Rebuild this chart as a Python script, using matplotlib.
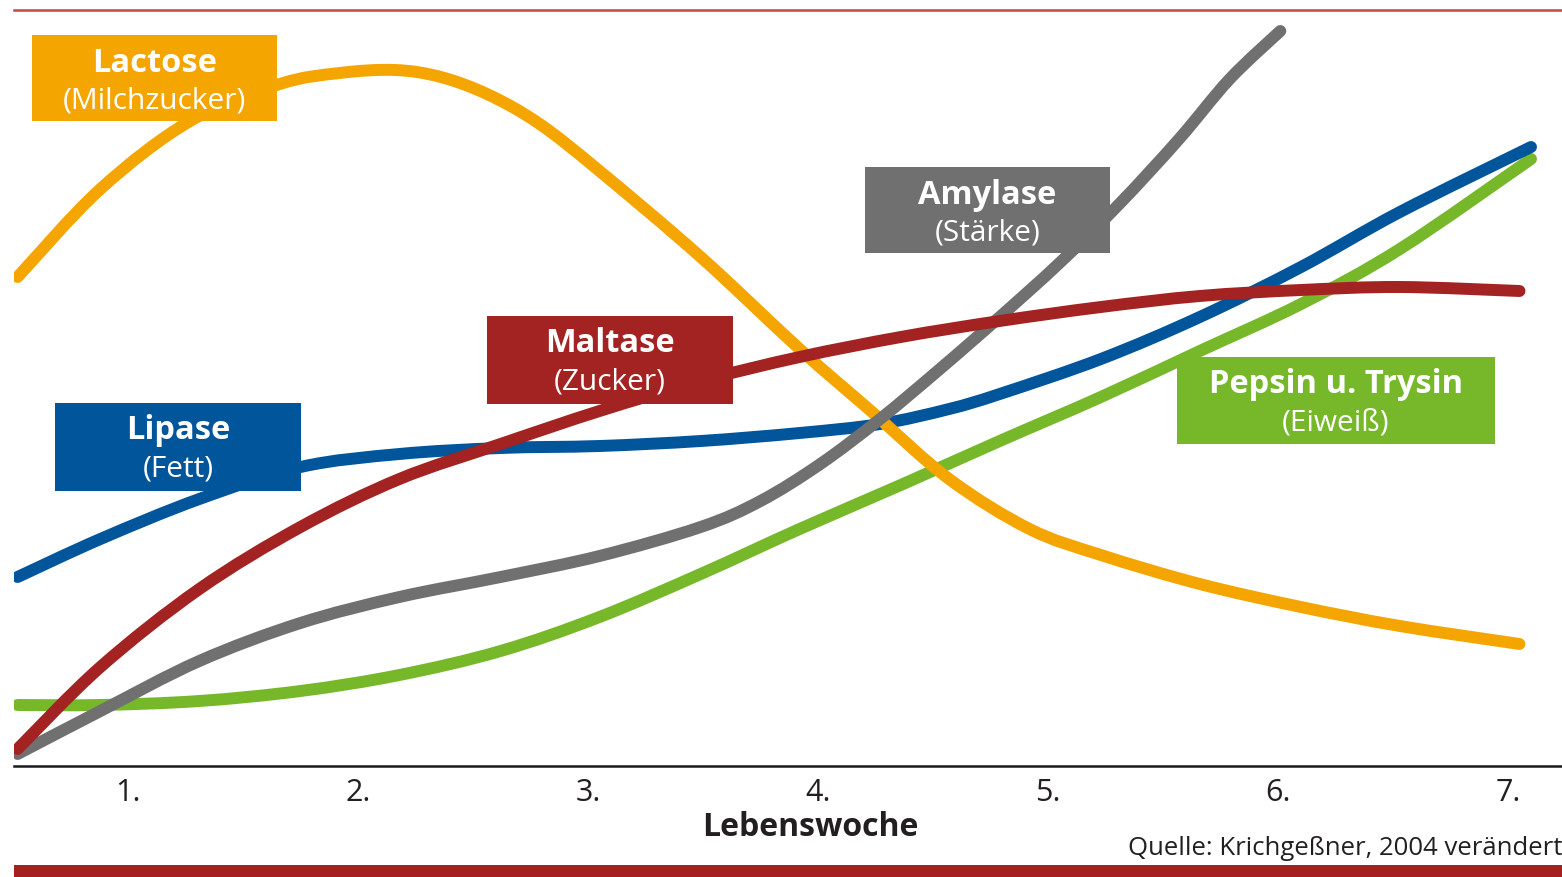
import matplotlib.pyplot as plt
from matplotlib.patches import Rectangle, PathPatch
from matplotlib.lines import Line2D
from matplotlib.path import Path

W, H = 1562, 878

# data: week vs. relative enzyme activity (arbitrary units)
lactose_x = [0.52, 0.88, 1.27, 1.66, 1.92, 2.16, 2.36, 2.57, 2.79, 3.05, 3.49, 3.92, 4.23, 4.57, 4.92, 5.23, 5.66, 6.10, 6.53, 7.05]
lactose_y = [489, 577, 645, 682, 693, 696, 689, 671, 642, 595, 509, 417, 355, 287, 237, 211, 182, 159, 140, 122]

lipase_x = [0.52, 0.88, 1.31, 1.75, 2.18, 2.62, 3.05, 3.49, 3.92, 4.27, 4.57, 4.79, 5.23, 5.66, 6.10, 6.53, 7.10]
lipase_y = [189, 227, 267, 299, 312, 318, 320, 325, 333, 342, 357, 372, 407, 449, 499, 554, 619]

maltase_x = [0.52, 0.88, 1.31, 1.75, 2.18, 2.62, 3.05, 3.49, 3.92, 4.36, 4.79, 5.23, 5.66, 6.10, 6.53, 7.05]
maltase_y = [17, 99, 177, 239, 287, 322, 355, 385, 409, 429, 445, 459, 470, 476, 479, 475]

amylase_x = [0.52, 0.88, 1.31, 1.75, 2.18, 2.62, 3.05, 3.49, 3.75, 4.01, 4.27, 4.53, 4.79, 5.05, 5.31, 5.57, 5.79, 6.01]
amylase_y = [12, 55, 105, 143, 169, 189, 210, 239, 265, 302, 347, 397, 449, 503, 562, 627, 687, 735]

pepsin_x = [0.52, 0.88, 1.31, 1.75, 2.18, 2.62, 3.05, 3.49, 3.92, 4.36, 4.79, 5.23, 5.66, 6.10, 6.53, 7.10]
pepsin_y = [61, 61, 65, 75, 91, 115, 149, 192, 237, 281, 325, 369, 415, 462, 517, 607]

weeks = [1, 2, 3, 4, 5, 6, 7]
week_labels = ["1.", "2.", "3.", "4.", "5.", "6.", "7."]

orange = "#F5A500"
blue = "#00559B"
red = "#A32222"
gray = "#707070"
green = "#76B82A"

plt.rcParams['font.family'] = ['Open Sans', 'DejaVu Sans']

fig = plt.figure(figsize=(W / 100, H / 100), dpi=100)
fig.patch.set_facecolor("white")

# axes: left edge at px 14, x axis line at py 767, top at py 0
left_px = 14
ax = fig.add_axes([left_px / W, (H - 767) / H, 1 - left_px / W, 767 / H])
ax.set_xlim((left_px - 128) / 230 + 1, (W - 128) / 230 + 1)
ax.set_ylim(0, 767)


def smooth_path(xs, ys):
    # Catmull-Rom through the points, drawn as cubic Bezier segments
    pts = list(zip(xs, ys))
    n = len(pts)
    verts = [pts[0]]
    codes = [Path.MOVETO]
    for i in range(n - 1):
        p0 = pts[i - 1] if i > 0 else pts[i]
        p1 = pts[i]
        p2 = pts[i + 1]
        p3 = pts[i + 2] if i + 2 < n else pts[i + 1]
        c1 = (p1[0] + (p2[0] - p0[0]) / 6, p1[1] + (p2[1] - p0[1]) / 6)
        c2 = (p2[0] - (p3[0] - p1[0]) / 6, p2[1] - (p3[1] - p1[1]) / 6)
        verts += [c1, c2, p2]
        codes += [Path.CURVE4] * 3
    return Path(verts, codes)


lw = 8.6
series = [
    (pepsin_x, pepsin_y, green, 2),
    (lipase_x, lipase_y, blue, 3),
    (lactose_x, lactose_y, orange, 4),
    (amylase_x, amylase_y, gray, 5),
    (maltase_x, maltase_y, red, 6),
]
for xs, ys, col, z in series:
    ax.add_patch(PathPatch(smooth_path(xs, ys), facecolor="none", edgecolor=col,
                           linewidth=lw, capstyle="round", joinstyle="round", zorder=z))

for s in ["top", "right", "left"]:
    ax.spines[s].set_visible(False)
ax.spines["bottom"].set_linewidth(1.8)
ax.spines["bottom"].set_color("#1a1a1a")
ax.set_yticks([])
ax.set_xticks(weeks)
ax.set_xticklabels(week_labels, fontsize=22, color="#231F20")
ax.tick_params(axis="x", length=0, pad=8)


def fx(px):
    return px / W


def fy(py):
    return 1 - py / H


# label boxes: (x0, y0, x1, y1) in pixels, colour, title, subtitle
boxes = [
    ((32, 36, 277, 122), orange, "Lactose", "(Milchzucker)"),
    ((865, 168, 1110, 254), gray, "Amylase", "(Stärke)"),
    ((487, 317, 733, 405), red, "Maltase", "(Zucker)"),
    ((55, 404, 301, 492), blue, "Lipase", "(Fett)"),
    ((1177, 358, 1495, 445), green, "Pepsin u. Trysin", "(Eiweiß)"),
]
for (x0, y0, x1, y1), col, title, sub in boxes:
    fig.patches.append(Rectangle((fx(x0), fy(y1)), fx(x1) - fx(x0), fy(y0) - fy(y1),
                                 transform=fig.transFigure, facecolor=col,
                                 edgecolor="none", zorder=10))
    cx = fx((x0 + x1) / 2)
    fig.text(cx, fy(y0 + 27), title, ha="center", va="center", fontsize=23.5,
             fontweight="bold", color="white", zorder=11)
    fig.text(cx, fy(y0 + 65), sub, ha="center", va="center", fontsize=21.5,
             color="white", zorder=11)

fig.text(fx(810), fy(828), "Lebenswoche", ha="center", va="center",
         fontsize=23, fontweight="bold", color="#231F20")
fig.text(fx(1562), fy(849), "Quelle: Krichgeßner, 2004 verändert", ha="right",
         va="center", fontsize=18.5, color="#231F20")

# decorative frame lines
fig.lines.append(Line2D([fx(14), 1], [fy(11), fy(11)], transform=fig.transFigure,
                        color="#C04848", linewidth=1.8))
fig.patches.append(Rectangle((fx(14), 0), 1 - fx(14), fy(866), transform=fig.transFigure,
                             facecolor="#A52020", edgecolor="none"))

fig.savefig("out.png", dpi=100)
